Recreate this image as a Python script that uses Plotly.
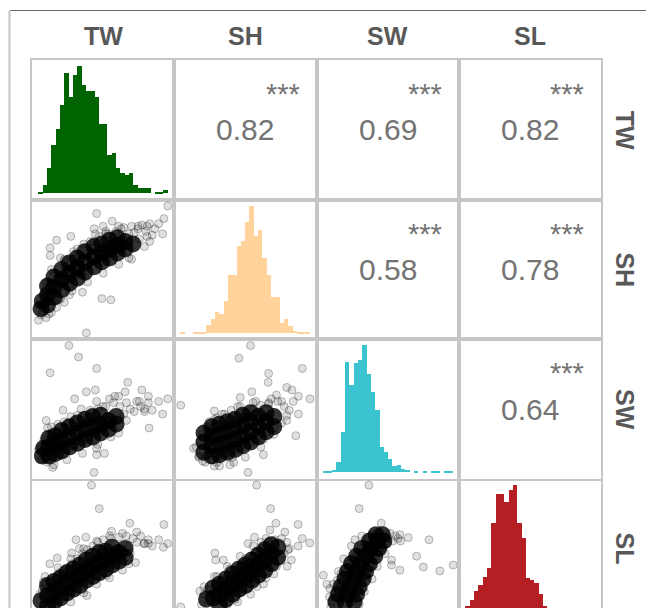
import plotly.graph_objects as go

# ---------------------------------------------------------------- data
VARIABLES = ["TW", "SH", "SW", "SL"]
HIST_COLORS = ["#006400", "#FFD39B", "#3BC4CF", "#B51F23"]

# histogram counts: 30 equal bins across each variable's observed range (values rescaled 0-100)
TW_COUNTS = [5, 25, 77, 147, 195, 265, 362, 290, 357, 383, 327, 310, 310, 292, 210,
             210, 115, 123, 75, 60, 55, 60, 25, 15, 15, 15, 0, 5, 5, 10]
SH_COUNTS = [5, 0, 0, 5, 5, 5, 25, 42, 65, 58, 98, 174, 174, 260, 275,
             332, 380, 292, 310, 225, 175, 110, 110, 30, 42, 22, 8, 5, 5, 5]
SW_COUNTS = [2, 2, 7, 30, 120, 330, 260, 327, 337, 380, 295, 240, 185, 75, 60,
             40, 20, 22, 10, 7, 0, 2, 0, 2, 0, 2, 2, 0, 2, 2]
SL_COUNTS = [20, 36, 63, 81, 108, 135, 270, 357, 357, 333, 369, 384, 269, 224, 105,
             99, 90, 54, 18, 12, 9, 6, 6, 3, 3, 0, 3, 0, 0, 3]
VAR_MIN, VAR_MAX = 0, 100

# upper panels: Pearson correlation and significance
CORR_PAIRS = [("TW", "SH"), ("TW", "SW"), ("TW", "SL"), ("SH", "SW"), ("SH", "SL"), ("SW", "SL")]
CORR_VALUES = [0.82, 0.69, 0.82, 0.58, 0.78, 0.64]
CORR_STARS = ["***", "***", "***", "***", "***", "***"]

# lower panels: observations (x = column variable, y = row variable), rescaled 0-100
SH_TW_DENSE = [(2,19),(3,25),(7,22),(7,30),(7,37),(12,28),(12,36),(12,44),(18,34),(18,42),(18,50),
               (24,39),(24,47),(24,55),(30,43),(30,51),(30,59),(36,48),(36,56),(36,64),(43,52),(43,60),
               (43,68),(49,56),(49,63),(49,70),(55,59),(55,66),(55,73),(61,63),(61,69),(61,75),(67,66),
               (67,72),(73,70)]
SH_TW_SPARSE = [(2,14),(3,22),(4,30),(9,35),(10,16),(13,26),(16,44),(17,27),(20,52),(24,36),(27,58),
                (29,45),(31,62),(34,47),(37,67),(40,55),(43,72),(45,58),(47,76),(51,62),(54,78),(57,66),
                (60,80),(63,70),(66,83),(70,78),(72,84),(74,79),(77,82),(80,85),(83,80),(86,86),(88,77),
                (90,82),(62,84),(52,80),(44,78),(35,70),(27,64),(20,57),(12,47),(8,40),(6,12),(14,20),
                (24,30),(36,44),(50,56),(65,66),(78,74),(84,76),
                (10,50),(20,58),(30,66),(40,72),(52,78),(64,82),(8,15),(16,26),(26,33),(38,40),(50,47),
                (62,54),(72,58),
                (100,100),(45,94),(57,88),(50,84),(43,82),(25,76),(14,73),(9,67),(9,61),(97,90),(93,86),
                (96,78),(86,72),(82,68),(84,84),(77,84),(70,59),(49,27),(56,26),(37,0),(0,10),(3,17),
                (34,32),(20,24),(6,39),(17,59)]

SW_TW_DENSE = [(3,13),(4,19),(8,13),(8,20),(8,27),(13,15),(13,22),(13,29),(18,17),(18,25),(18,33),
               (24,20),(24,28),(24,36),(30,23),(30,31),(30,39),(36,26),(36,34),(36,42),(42,28),(42,36),
               (42,44),(48,31),(48,38),(48,45),(54,34),(54,41),(60,38),(60,44)]
SW_TW_SPARSE = [(1,10),(2,20),(4,25),(7,8),(10,27),(11,10),(14,31),(18,15),(19,35),(22,18),(23,38),
                (27,22),(29,41),(31,25),(35,44),(39,28),(40,46),(44,31),(46,50),(50,34),(52,52),(55,38),
                (58,55),(61,42),(63,52),(66,46),(68,55),(71,50),(74,48),(76,56),(79,52),(82,50),(85,55),
                (88,49),(62,60),(55,58),(45,56),(33,50),(25,44),(15,38),(8,30),
                (10,36),(20,40),(30,45),(40,49),(50,52),(12,6),(22,10),(34,15),(46,22),(56,28),
                (23.5,100),(31,91),(9,78.5),(45,82),(69,71),(67,63.5),(80,65),(85,60),(93,56),(100,58),
                (96,46),(85.5,35),(82,48),(78,56),(59,60),(37,63.5),(28,58),(44,65),(19,49),(6,41),(7,35),
                (0,18),(3,11),(11,4),(43,0),(45,14),(51,15),(45,19),(62,31),(68,41)]

SW_SH_DENSE = [(18,16),(18,24),(18,31),(24,13),(24,21),(24,28),(24,36),(30,14),(30,22),(30,30),(30,38),
               (36,16),(36,24),(36,32),(36,40),(42,18),(42,26),(42,34),(42,42),(48,21),(48,29),(48,37),
               (48,45),(54,24),(54,32),(54,40),(54,47),(60,28),(60,36),(60,44),(66,32),(66,40),(66,47),
               (72,36),(72,44)]
SW_SH_SPARSE = [(14,12),(15,24),(17,30),(19,8),(22,32),(24,10),(26,36),(30,13),(32,38),(36,15),(38,42),
                (42,18),(44,44),(48,21),(50,47),(54,24),(56,50),(60,27),(62,53),(66,31),(68,55),(72,35),
                (75,56),(78,39),(80,52),(82,45),(84,49),(70,58),(58,56),(46,52),(34,46),(26,42),(12,20),
                (28,8),(40,12),(64,26),
                (22,40),(32,46),(44,52),(56,55),(68,54),(26,5),(38,6),(50,12),(62,20),(72,30),
                (54,100),(45,90),(94,82),(68,78),(67.6,71),(82,67),(86,65),(100,58),(91,60),(87,56),
                (78,56),(74,61),(55,63.5),(46,59),(26,48.5),(39,49),(28,43),(20,36),(10,19),(14,13),
                (17,9),(30,5),(41,8),(52,0),(64,14),(89,29),(91,46),(82,41),(0,53)]

SL_TW_DENSE = [(2,2),(2,9),(7,5),(7,13),(7,21),(12,8),(12,16),(12,24),(17,11),(17,19),(17,27),
               (22,15),(22,23),(22,31),(27,18),(27,26),(27,34),(32,21),(32,29),(32,37),(37,25),(37,33),
               (37,41),(42,28),(42,36),(42,44),(47,31),(47,39),(47,47),(52,34),(52,41),(52,48),(57,37),
               (57,44),(57,51),(62,40),(62,47),(67,43),(67,50)]
SL_TW_SPARSE = [(1,14),(3,18),(6,22),(8,2),(10,25),(12,5),(14,28),(16,9),(18,32),(20,12),(22,35),
                (24,16),(26,38),(28,20),(30,42),(32,24),(34,46),(36,28),(38,49),(40,31),(42,52),(44,34),
                (46,55),(48,37),(50,57),(54,41),(56,58),(60,44),(62,59),(66,48),(68,60),(70,52),(73,58),
                (76,55),(79,60),(82,54),(85,57),(88,52),(71,46),(65,62),
                (5,28),(15,35),(25,42),(35,50),(45,56),(55,60),(15,2),(25,8),(35,15),(45,22),(55,27),
                (65,33),
                (41,100),(47,81.5),(70.6,70),(97,69),(100,54),(96.6,51),(93,57),(85,54),(81.5,54),
                (76,63),(56.5,63.6),(36.6,59),(29,57),(25.7,46.5),(31.6,50),(14.5,42.6),(8.8,38),
                (3.7,23.7),(37.6,13),(75,39),(70,38),(52.6,29)]

SL_SH_DENSE = [(20,2),(20,10),(25,3),(25,11),(25,19),(30,6),(30,14),(30,22),(35,10),(35,18),(35,26),
               (40,14),(40,22),(40,30),(45,18),(45,26),(45,34),(50,21),(50,29),(50,37),(55,25),(55,33),
               (55,41),(60,29),(60,37),(60,45),(65,33),(65,41),(65,49),(70,38),(70,46),(70,53),(75,43),
               (75,51)]
SL_SH_SPARSE = [(16,6),(18,14),(21,18),(24,0),(27,22),(31,3),(33,26),(36,6),(39,30),(42,10),(44,34),
                (47,16),(49,38),(52,19),(55,44),(57,24),(59,47),(61,28),(63,50),(65,32),(68,55),(70,37),
                (73,57),(76,41),(78,58),(80,46),(82,55),(84,50),(62,55),(50,42),(38,34),(28,28),(66,27),
                (74,36),
                (18,20),(26,28),(36,36),(46,44),(56,52),(66,58),(34,2),(44,8),(54,14),(64,22),(72,30),
                (58.7,100),(69.5,81.5),(73.6,70),(90.8,69),(99.8,54.4),(94,58),(80.5,63),(90.8,52),
                (85.6,41),(82.3,36),(69,64.7),(52,54),(57,59),(26.4,46.5),(27,41),(33,41),(45.8,35),
                (14.8,16.6),(0,4),(59,20),(83,49)]

SL_SW_DENSE = [(12,2),(20,2),(10,8),(17,8),(24,8),(12,14),(19,14),(26,14),(14,20),(21,20),(28,20),
               (17,26),(24,26),(31,26),(19,32),(26,32),(33,32),(22,38),(29,38),(36,38),(26,44),(33,44),
               (40,44),(30,50),(37,50),(43,50),(36,56),(42,56),(47,56),(41,61),(46,61)]
SL_SW_SPARSE = [(6,4),(8,12),(10,18),(11,25),(13,0),(14,30),(17,34),(18,2),(20,38),(22,8),(23,42),
                (25,14),(26,46),(28,20),(29,50),(31,26),(32,54),(34,31),(35,58),(37,37),(38,61),(40,43),
                (42,62),(44,48),(46,60),(47,51),(49,58),(50,54),(52,62),(54,56),(56,60),(58,58),(60,56),
                (13,20),(7,8),
                (5,12),(8,22),(12,32),(16,42),(22,52),(30,60),(28,6),(32,16),(38,26),(42,36),(48,46),
                (35.5,100),(28,81.5),(45,70),(59.5,61),(66,58.7),(82,57),(72.4,44),(77.6,35.5),
                (90.4,32.4),(100.7,37),(59.5,33),(24.7,57),(0.3,29),(5.4,18.5),(53,37),(53,41),(3,22)]

HIST = {"TW": TW_COUNTS, "SH": SH_COUNTS, "SW": SW_COUNTS, "SL": SL_COUNTS}
LOWER = {
    ("SH", "TW"): (SH_TW_DENSE, SH_TW_SPARSE),
    ("SW", "TW"): (SW_TW_DENSE, SW_TW_SPARSE),
    ("SW", "SH"): (SW_SH_DENSE, SW_SH_SPARSE),
    ("SL", "TW"): (SL_TW_DENSE, SL_TW_SPARSE),
    ("SL", "SH"): (SL_SH_DENSE, SL_SH_SPARSE),
    ("SL", "SW"): (SL_SW_DENSE, SL_SW_SPARSE),
}

# ---------------------------------------------------------------- layout geometry
W, H = 646, 608
ML, MR, MT, MB = 32, 45, 60, 0
PLOT_W = W - ML - MR
PLOT_H = H - MT - MB
ROW_PX = 139.6
ROW_F = ROW_PX / PLOT_H
LAST_VISIBLE = (PLOT_H - 3 * ROW_PX) / ROW_PX   # bottom row is cut by the window

FONT = "Liberation Sans, Arial, Helvetica, sans-serif"
BORDER = "#c6c6c6"
n = len(VARIABLES)


def expand(lo, hi, mult=0.05):
    d = (hi - lo) * mult
    return [lo - d, hi + d]


def crop(rng, frac):
    lo, hi = rng
    return [hi - frac * (hi - lo), hi]


fig = go.Figure()
layout = {}
annotations = []

for r, rv in enumerate(VARIABLES):
    for c, cv in enumerate(VARIABLES):
        k = r * n + c + 1
        xa = "x" if k == 1 else f"x{k}"
        ya = "y" if k == 1 else f"y{k}"
        top = 1 - r * ROW_F
        bot = max(0.0, 1 - (r + 1) * ROW_F)
        last = (r == n - 1)

        xr = expand(VAR_MIN, VAR_MAX)
        if r == c:
            counts = HIST[cv]
            nb = len(counts)
            bw = (VAR_MAX - VAR_MIN) / nb
            centers = [VAR_MIN + (i + 0.5) * bw for i in range(nb)]
            fig.add_trace(go.Bar(x=centers, y=counts, width=bw, xaxis=xa, yaxis=ya,
                                 marker=dict(color=HIST_COLORS[c], line=dict(width=0)),
                                 hoverinfo="skip"))
            yr = expand(0, max(counts))
        elif r > c:
            dense, sparse = LOWER[(rv, cv)]
            fig.add_trace(go.Scatter(x=[p[0] for p in dense], y=[p[1] for p in dense],
                                     mode="markers", xaxis=xa, yaxis=ya, cliponaxis=False,
                                     marker=dict(size=17, color="rgba(0,0,0,0.8)", line=dict(width=0)),
                                     hoverinfo="skip"))
            fig.add_trace(go.Scatter(x=[p[0] for p in sparse], y=[p[1] for p in sparse],
                                     mode="markers", xaxis=xa, yaxis=ya, cliponaxis=False,
                                     marker=dict(size=8, color="rgba(0,0,0,0.12)",
                                                 line=dict(width=1, color="rgba(0,0,0,0.25)")),
                                     hoverinfo="skip"))
            yr = expand(VAR_MIN, VAR_MAX)
        else:
            fig.add_trace(go.Scatter(x=[None], y=[None], xaxis=xa, yaxis=ya, mode="markers",
                                     hoverinfo="skip"))
            yr = [0, 1]
            idx = CORR_PAIRS.index((rv, cv))
            annotations.append(dict(xref=f"{xa} domain", yref=f"{ya} domain", x=0.5, y=0.5,
                                    text=f"{CORR_VALUES[idx]:.2f}", showarrow=False,
                                    xanchor="center", yanchor="middle",
                                    font=dict(family=FONT, size=30, color="#747474")))
            annotations.append(dict(xref=f"{xa} domain", yref=f"{ya} domain", x=0.897, y=0.885,
                                    text=CORR_STARS[idx], showarrow=False,
                                    xanchor="right", yanchor="top",
                                    font=dict(family=FONT, size=29, color="#747474")))
        if last:
            yr = crop(yr, LAST_VISIBLE)

        layout["xaxis" if k == 1 else f"xaxis{k}"] = dict(
            domain=[c / n, (c + 1) / n], range=xr, anchor=ya,
            showline=not last, mirror=True, linecolor=BORDER, linewidth=2,
            showgrid=False, zeroline=False, showticklabels=False, ticks="", fixedrange=True)
        layout["yaxis" if k == 1 else f"yaxis{k}"] = dict(
            domain=[bot, top], range=yr, anchor=xa,
            showline=True, mirror=True, linecolor=BORDER, linewidth=2,
            showgrid=False, zeroline=False, showticklabels=False, ticks="", fixedrange=True)

# strip labels
for i, v in enumerate(VARIABLES):
    annotations.append(dict(xref="paper", yref="paper", x=(i + 0.5) / n, y=1 + 24 / PLOT_H,
                            text=f"<b>{v}</b>", showarrow=False, xanchor="center", yanchor="middle",
                            font=dict(family=FONT, size=25, color="#585858")))
    rc = 1 - (i + 0.5) * ROW_F
    annotations.append(dict(xref="paper", yref="paper", x=1 + 24 / PLOT_W, y=rc,
                            text=f"<b>{v}</b>", showarrow=False, textangle=90,
                            xanchor="center", yanchor="middle",
                            font=dict(family=FONT, size=25, color="#585858")))

# outer frame (top and left edges of the figure border)
shapes = [
    dict(type="line", xref="paper", yref="paper",
         x0=-22 / PLOT_W, x1=1 + 50 / PLOT_W, y0=1 + 49.5 / PLOT_H, y1=1 + 49.5 / PLOT_H,
         line=dict(color="#6a6a6a", width=1)),
    dict(type="line", xref="paper", yref="paper",
         x0=-22.5 / PLOT_W, x1=-22.5 / PLOT_W, y0=-0.02, y1=1 + 49.5 / PLOT_H,
         line=dict(color="#c4c4c4", width=2)),
]

fig.update_layout(width=W, height=H, margin=dict(l=ML, r=MR, t=MT, b=MB, pad=0),
                  paper_bgcolor="white", plot_bgcolor="white", showlegend=False,
                  bargap=0, annotations=annotations, shapes=shapes, **layout)

fig.write_html("out.html")
